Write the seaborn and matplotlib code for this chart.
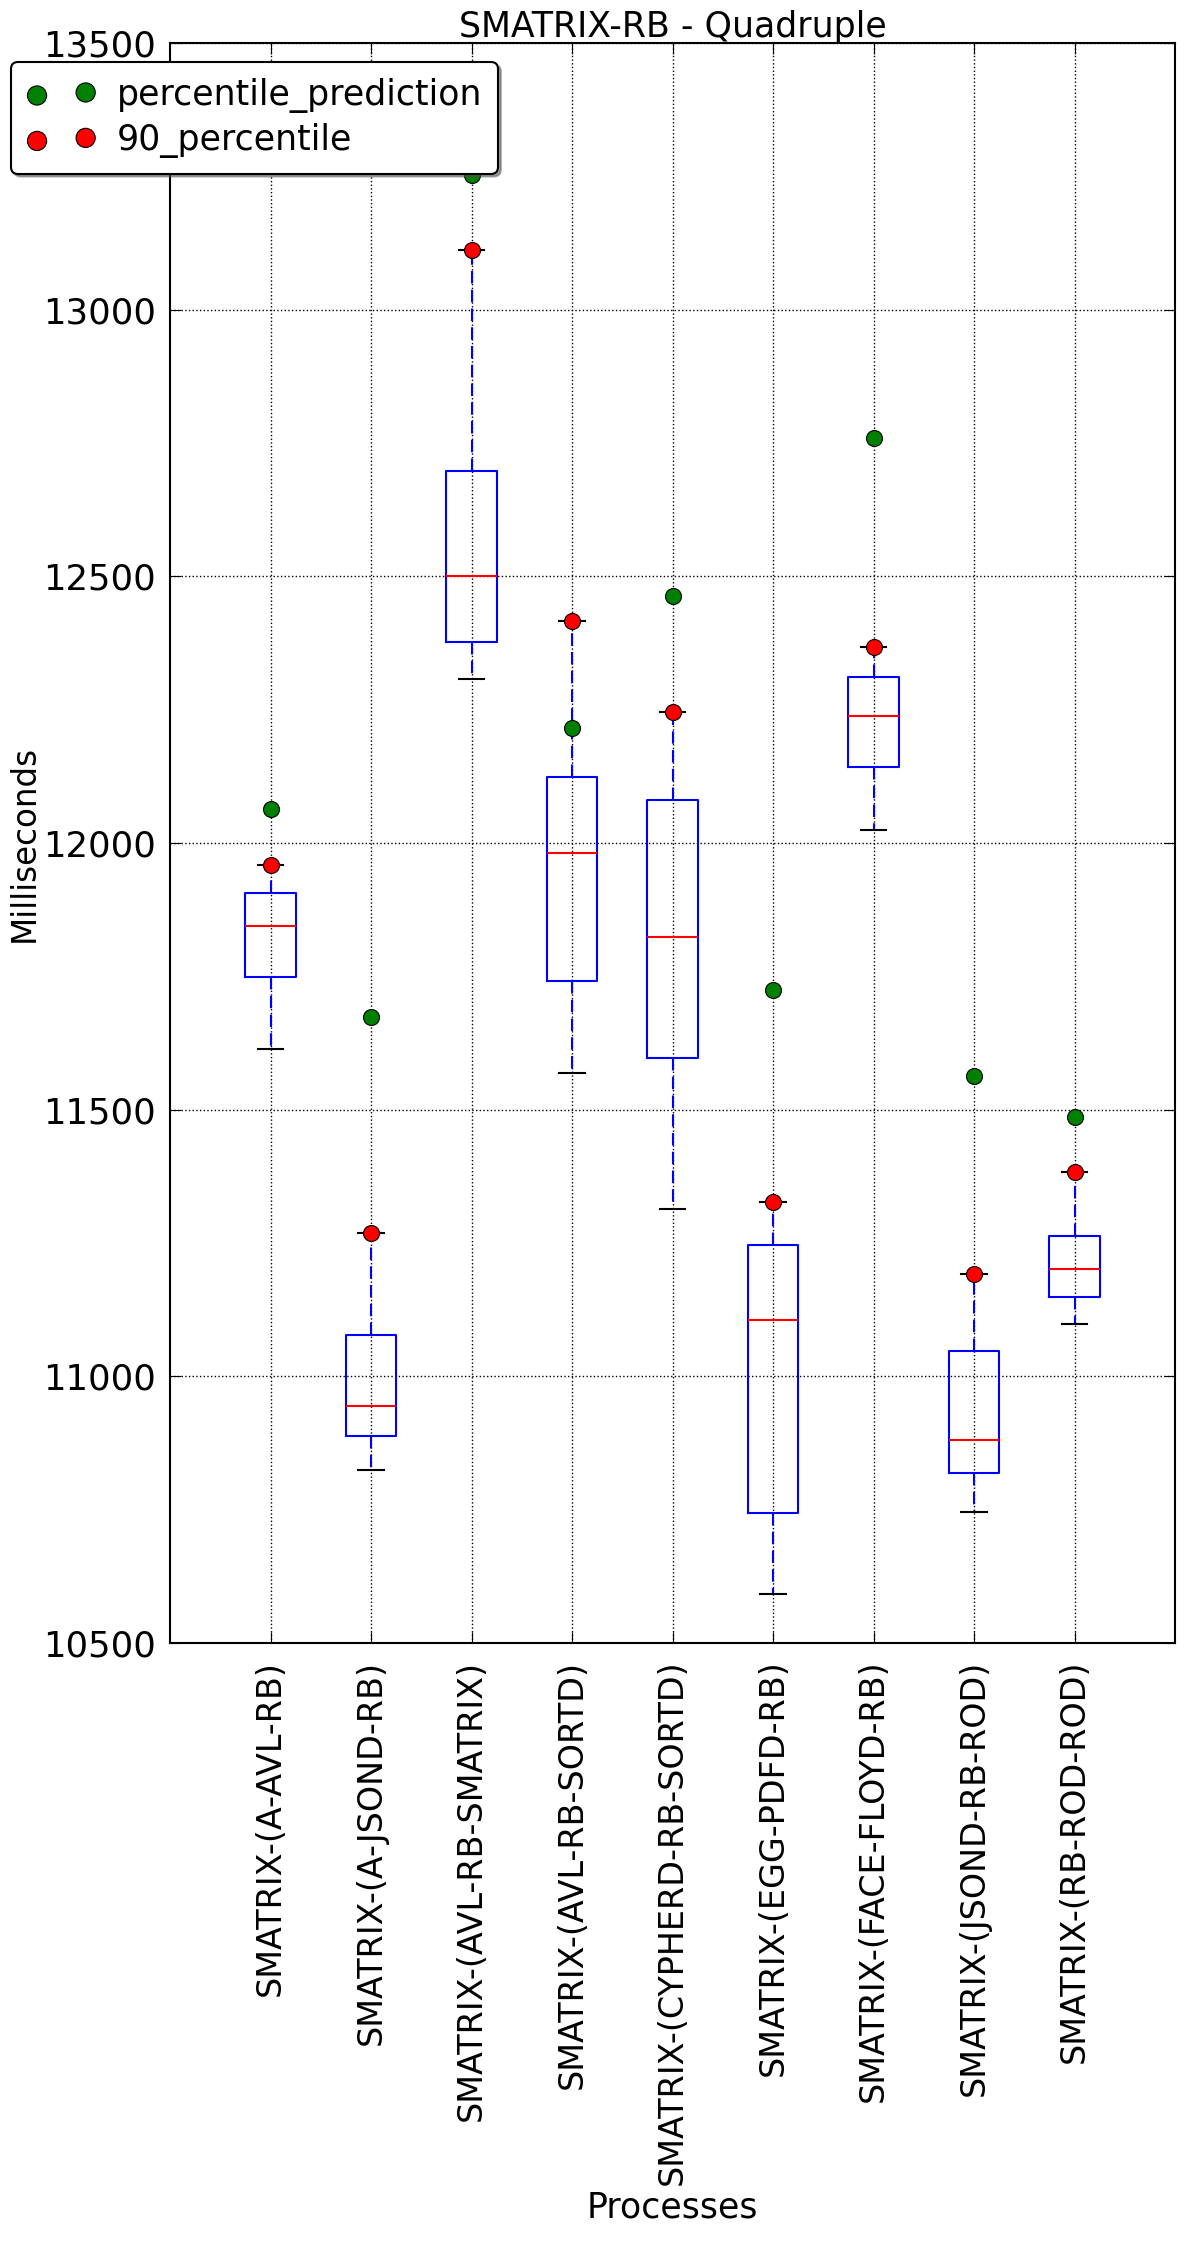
import numpy as np
import pandas as pd
import matplotlib
matplotlib.use("Agg")
import matplotlib.pyplot as plt
import seaborn as sns

processes = ["SMATRIX-(A-AVL-RB)", "SMATRIX-(A-JSOND-RB)", "SMATRIX-(AVL-RB-SMATRIX)",
             "SMATRIX-(AVL-RB-SORTD)", "SMATRIX-(CYPHERD-RB-SORTD)", "SMATRIX-(EGG-PDFD-RB)",
             "SMATRIX-(FACE-FLOYD-RB)", "SMATRIX-(JSOND-RB-ROD)", "SMATRIX-(RB-ROD-ROD)"]
whisker_low = [11613, 10824, 12307, 11568, 11313, 10592, 12024, 10745, 11099]
q1 = [11749, 10888, 12377, 11742, 11597, 10744, 12143, 10819, 11148]
median = [11844, 10944, 12500, 11981, 11823, 11105, 12238, 10880, 11202]
q3 = [11906, 11077, 12697, 12124, 12081, 11246, 12312, 11047, 11264]
percentile_90 = [11959, 11269, 13111, 12416, 12245, 11327, 12368, 11192, 11384]
percentile_prediction = [12064, 11674, 13252, 12216, 12464, 11725, 12760, 11564, 11487]
yticks = [10500, 11000, 11500, 12000, 12500, 13000, 13500]

# five-number summaries as long-form table (whisker top = 90th percentile)
rows = []
for i, p in enumerate(processes):
    for v in (whisker_low[i], q1[i], median[i], q3[i], percentile_90[i]):
        rows.append({"process": p, "ms": v})
df = pd.DataFrame(rows)

plt.rcParams["font.family"] = ["DejaVu Sans"]
fig = plt.figure(figsize=(11.84, 22.54), dpi=100)
ax = fig.add_axes([170/1184, 1-1643/2254, (1175-170)/1184, 1600/2254])

sns.boxplot(data=df, x="process", y="ms", order=processes, whis=(0, 100),
            width=0.5, fill=False, color="blue", linewidth=1.5, ax=ax,
            boxprops=dict(color="blue", linewidth=1.5),
            medianprops=dict(color="red", linewidth=1.5),
            whiskerprops=dict(color="blue", linestyle=(0, (6, 3)), linewidth=1.5),
            capprops=dict(color="black", linewidth=1.5),
            showfliers=False)

sns.stripplot(x=processes, y=percentile_prediction, order=processes, jitter=False,
              color="green", size=11.5, edgecolor="black", linewidth=0.8,
              label="percentile_prediction", zorder=5, ax=ax)
sns.stripplot(x=processes, y=percentile_90, order=processes, jitter=False,
              color="red", size=11.5, edgecolor="black", linewidth=0.8,
              label="90_percentile", zorder=5, ax=ax)

if ax.get_legend() is not None:
    ax.get_legend().remove()

ax.set_xlim(-1, 9)
ax.set_ylim(10500, 13500)
ax.set_yticks(yticks)
ax.set_xticks(range(len(processes)))
ax.set_xticklabels(processes, rotation=90, fontsize=24)
ax.tick_params(axis="y", labelsize=25.5, direction="in", length=8, right=True, pad=10)
ax.tick_params(axis="x", direction="in", length=8, top=True, pad=12)
ax.grid(True, color="black", linestyle=":", linewidth=1)
ax.xaxis.grid(True, color="black", linestyle=":", linewidth=1)
ax.set_axisbelow(True)
for s in ax.spines.values():
    s.set_linewidth(1.5)
    s.set_color("black")

ax.set_title("SMATRIX-RB - Quadruple", fontsize=25, pad=4)
ax.set_xlabel("Processes", fontsize=25, labelpad=4)
ax.set_ylabel("Milliseconds", fontsize=23.5, labelpad=2)

handles, labels = ax.get_legend_handles_labels()
uniq = {}
for h, l in zip(handles, labels):
    if l not in uniq:
        uniq[l] = h
leg = fig.legend(list(uniq.values()), list(uniq.keys()), loc="upper left",
                 bbox_to_anchor=(11/1184, 1-62/2254), scatterpoints=2, fontsize=25,
                 fancybox=True, shadow=True, framealpha=1, edgecolor="black",
                 borderpad=0.45, labelspacing=0.3, handletextpad=0.6,
                 borderaxespad=0, markerscale=1.2)
leg.get_frame().set_linewidth(1.5)

fig.savefig("out.png", dpi=100)
